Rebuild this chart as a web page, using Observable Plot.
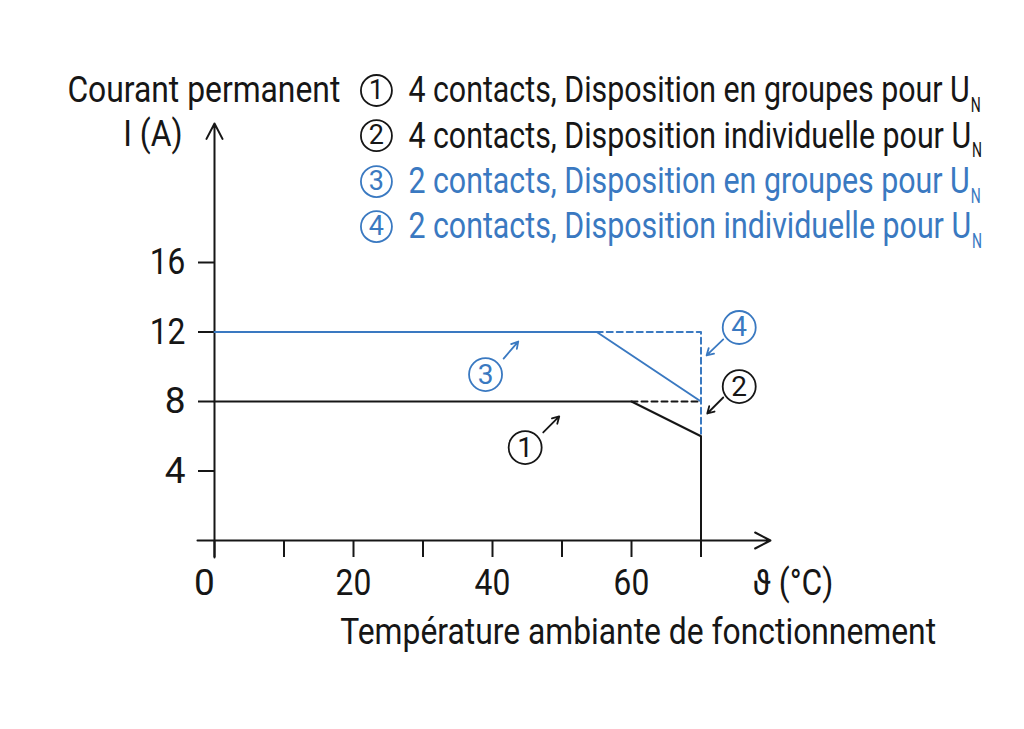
<!DOCTYPE html>
<html>
<head>
<meta charset="utf-8">
<script src="https://cdn.jsdelivr.net/npm/d3@7"></script>
<script src="https://cdn.jsdelivr.net/npm/@observablehq/plot@0.6"></script>
<style>
  html, body { margin: 0; padding: 0; background: #fff; }
  #chart svg { display: block; }
</style>
</head>
<body>
<div id="chart"></div>
<script>
const BLACK = "#161616";
const BLUE = "#3a79c1";
const FONT = "Roboto, 'Noto Sans', sans-serif";
const CONDENSE = 0.86;        // the original uses a condensed typeface
const CONDENSE_LEGEND = 0.82; // legend lines are set a little tighter

// Axis ticks
const xTicks = [0, 10, 20, 30, 40, 50, 60, 70];
const yTicks = [4, 8, 12, 16];

// Curves (temperature °C, current A)
const curve1 = [{t: 0, i: 8}, {t: 60, i: 8}, {t: 70, i: 6}, {t: 70, i: 0}];          // ① solid black
const curve2 = [{t: 60, i: 8}, {t: 70, i: 8}];                                       // ② dashed black
const curve3 = [{t: 0, i: 12}, {t: 55, i: 12}, {t: 70, i: 8}];                        // ③ solid blue
const curve4 = [{t: 55, i: 12}, {t: 70, i: 12}, {t: 70, i: 6}];                       // ④ dashed blue

// Legend
const legendNums = ["1", "2", "3", "4"];
const legendLabels = [
  "4 contacts, Disposition en groupes pour U",
  "4 contacts, Disposition individuelle pour U",
  "2 contacts, Disposition en groupes pour U",
  "2 contacts, Disposition individuelle pour U"
];
const legendColors = [BLACK, BLACK, BLUE, BLUE];
const legendRowY = [25.9, 23.3, 20.66, 18.07];
const legendCircleX = 23.3;
const legendTextX = 27.9;

// Curve callouts: circled number + small arrow pointing at curve
const calloutNums = ["1", "2", "3", "4"];
const calloutColors = [BLACK, BLACK, BLUE, BLUE];
const calloutCircle = [{x: 44.7, y: 5.35}, {x: 75.5, y: 8.86}, {x: 39.0, y: 9.55}, {x: 75.5, y: 12.26}];
const calloutArrow = [
  {x1: 47.3, y1: 6.22, x2: 49.6, y2: 7.14},
  {x1: 73.2, y1: 8.23, x2: 70.9, y2: 7.31},
  {x1: 41.6, y1: 10.47, x2: 43.7, y2: 11.45},
  {x1: 73.2, y1: 11.57, x2: 70.8, y2: 10.65}
];

// Axis extents (arrows)
const axisLines = [
  {x1: -2.45, y1: 0, x2: 80, y2: 0},
  {x1: 0, y1: -0.98, x2: 0, y2: 24}
];

// Axis titles
const axisTitles = [
  {x: 18.1, y: 25.9, text: "Courant permanent", anchor: "end"},
  {x: -4.6, y: 23.4, text: "I (A)", anchor: "end"},
  {x: 77.4, y: -2.47, text: "ϑ (°C)", anchor: "start"},
  {x: 18.1, y: -5.3, text: "Température ambiante de fonctionnement", anchor: "start"}
];

const legend = legendNums.map((n, k) => ({n, label: legendLabels[k], color: legendColors[k], y: legendRowY[k]}));
const callouts = calloutNums.map((n, k) => ({n, color: calloutColors[k], ...calloutCircle[k], ...calloutArrow[k]}));

const chart = Plot.plot({
  width: 1024,
  height: 729,
  marginLeft: 214,
  marginRight: 254,
  marginTop: 123,
  marginBottom: 189,
  x: {domain: [0, 80]},
  y: {domain: [0, 24]},
  color: {type: "identity"},
  style: {fontFamily: FONT, fontSize: "37px", background: "#fff", color: BLACK},
  marks: [
    Plot.axisX(xTicks, {tickSize: 17, tickPadding: 11, strokeWidth: 2, label: null, fontSize: 37,
      tickFormat: d => d % 20 === 0 ? String(d) : ""}),
    Plot.axisY(yTicks, {tickSize: 16, tickPadding: 13, strokeWidth: 2, label: null, fontSize: 37}),
    Plot.arrow(axisLines, {x1: "x1", y1: "y1", x2: "x2", y2: "y2", stroke: BLACK, strokeWidth: 2, headLength: 13, headAngle: 55}),
    Plot.line(curve4, {x: "t", y: "i", stroke: BLUE, strokeWidth: 2, strokeDasharray: "6,4"}),
    Plot.line(curve2, {x: "t", y: "i", stroke: BLACK, strokeWidth: 2, strokeDasharray: "6,4"}),
    Plot.line(curve3, {x: "t", y: "i", stroke: BLUE, strokeWidth: 2}),
    Plot.line(curve1, {x: "t", y: "i", stroke: BLACK, strokeWidth: 2}),
    // callouts
    Plot.arrow(callouts, {x1: "x1", y1: "y1", x2: "x2", y2: "y2", stroke: "color", strokeWidth: 1.8, headLength: 9, headAngle: 60}),
    Plot.dot(callouts, {x: "x", y: "y", r: 16.5, stroke: "color", fill: "#fff", strokeWidth: 1.8}),
    Plot.text(callouts, {x: "x", y: "y", text: "n", fill: "color", fontSize: 28}),
    // legend
    Plot.dot(legend, {x: () => legendCircleX, y: "y", r: 15.5, stroke: "color", fill: "#fff", strokeWidth: 1.8}),
    Plot.text(legend, {x: () => legendCircleX, y: "y", text: "n", fill: "color", fontSize: 27}),
    Plot.text(legend, {x: () => legendTextX, y: "y", text: "label", fill: "color", textAnchor: "start", fontSize: 37}),
    // axis titles
    Plot.text(axisTitles, {x: "x", y: "y", text: "text", textAnchor: "end", fill: BLACK, fontSize: 37,
      filter: d => d.anchor === "end"}),
    Plot.text(axisTitles, {x: "x", y: "y", text: "text", textAnchor: "start", fill: BLACK, fontSize: 37,
      filter: d => d.anchor === "start"})
  ]
});

document.getElementById("chart").appendChild(chart);

// Emulate the condensed typeface of the original
d3.select(chart).selectAll("text").each(function () {
  const isLegend = /pour U$/.test(this.textContent);
  const len = this.getComputedTextLength();
  if (len > 0 && this.textContent.trim().length > 1) {
    this.setAttribute("textLength", (len * (isLegend ? CONDENSE_LEGEND : CONDENSE)).toFixed(1));
    this.setAttribute("lengthAdjust", "spacingAndGlyphs");
  }
});

// Subscript N after "U" in legend lines (placed just right of the condensed line, below the baseline)
d3.select(chart).selectAll("text")
  .filter(function () { return /pour U$/.test(this.textContent); })
  .each(function () {
    const box = this.getBBox();
    d3.select(this.parentNode).append("text")
      .attr("x", box.x + box.width + 1)
      .attr("y", box.y + box.height * 0.80 + 9)
      .attr("transform", this.getAttribute("transform"))
      .attr("fill", this.getAttribute("fill"))
      .attr("font-size", 20)
      .attr("textLength", 10)
      .attr("lengthAdjust", "spacingAndGlyphs")
      .text("N");
  });

// The "0" label sits slightly left of its tick in the original
d3.select(chart).selectAll("text")
  .filter(function () { return this.textContent === "0"; })
  .attr("dx", -10);
</script>
</body>
</html>
